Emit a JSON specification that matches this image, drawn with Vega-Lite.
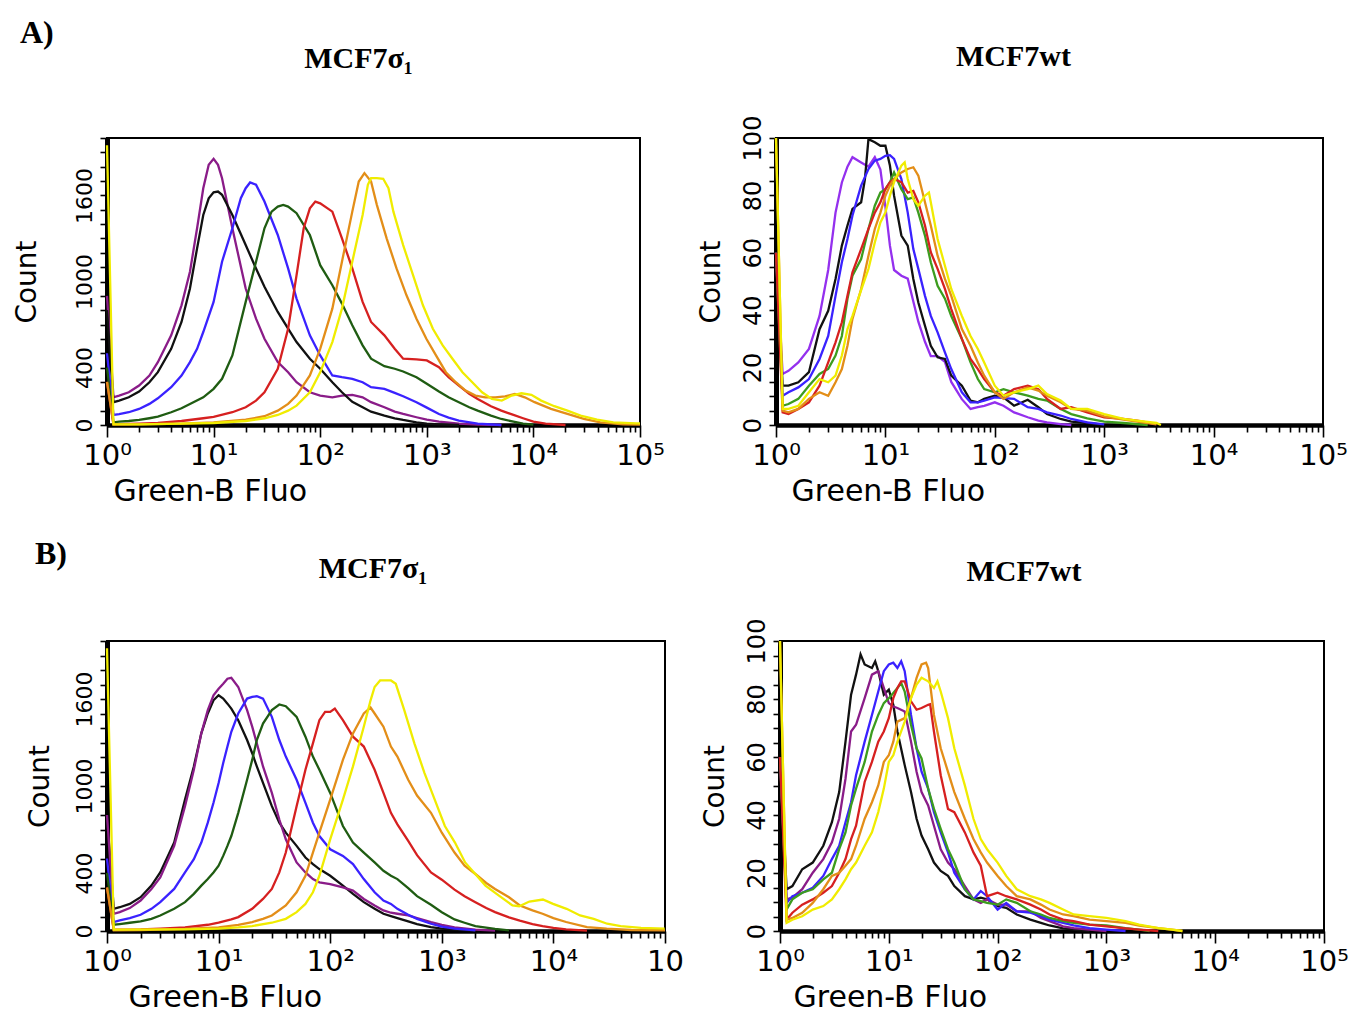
{
"$schema": "https://vega.github.io/schema/vega-lite/v6.json",
"background": "white",
"padding": {"left": 12, "right": 0, "top": 17, "bottom": 0},
"config": {
  "view": {"stroke": "black", "strokeWidth": 2},
  "axis": {"grid": false, "domainColor": "black", "tickColor": "black", "labelColor": "black", "titleColor": "black", "labelFont": "DejaVu Sans", "titleFont": "DejaVu Sans", "titleFontWeight": "normal", "tickWidth": 1.6},
  "title": {"font": "Liberation Serif", "fontWeight": "bold", "color": "black"},
  "line": {"strokeWidth": 2.3, "clip": true}
},
"datasets": {
"aL": [
{"s":"purple","x":1,"c":900},{"s":"purple","x":1.15,"c":193},{"s":"purple","x":1.3,"c":205},{"s":"purple","x":1.6,"c":228},{"s":"purple","x":2,"c":275},{"s":"purple","x":2.5,"c":345},{"s":"purple","x":3,"c":438},{"s":"purple","x":4,"c":625},{"s":"purple","x":5,"c":834},{"s":"purple","x":6,"c":1068},{"s":"purple","x":7,"c":1371},{"s":"purple","x":8,"c":1650},{"s":"purple","x":9,"c":1813},{"s":"purple","x":10,"c":1855},{"s":"purple","x":11,"c":1813},{"s":"purple","x":12,"c":1720},{"s":"purple","x":15,"c":1371},{"s":"purple","x":20,"c":951},{"s":"purple","x":25,"c":741},{"s":"purple","x":30,"c":601},{"s":"purple","x":40,"c":438},{"s":"purple","x":50,"c":368},{"s":"purple","x":60,"c":298},{"s":"purple","x":80,"c":228},{"s":"purple","x":100,"c":205},{"s":"purple","x":130,"c":193},{"s":"purple","x":160,"c":205},{"s":"purple","x":200,"c":210},{"s":"purple","x":250,"c":193},{"s":"purple","x":300,"c":159},{"s":"purple","x":400,"c":124},{"s":"purple","x":500,"c":93},{"s":"purple","x":600,"c":77},{"s":"purple","x":800,"c":54},{"s":"purple","x":1000,"c":37},{"s":"purple","x":1300,"c":23},{"s":"purple","x":2000,"c":9},{"s":"purple","x":3000,"c":2},{"s":"purple","x":5000,"c":0},
{"s":"black","x":1,"c":800},{"s":"black","x":1.15,"c":159},{"s":"black","x":1.3,"c":170},{"s":"black","x":1.6,"c":193},{"s":"black","x":2,"c":233},{"s":"black","x":2.5,"c":298},{"s":"black","x":3,"c":368},{"s":"black","x":4,"c":531},{"s":"black","x":5,"c":718},{"s":"black","x":6,"c":951},{"s":"black","x":7,"c":1231},{"s":"black","x":8,"c":1464},{"s":"black","x":9,"c":1580},{"s":"black","x":10,"c":1622},{"s":"black","x":11,"c":1627},{"s":"black","x":12,"c":1604},{"s":"black","x":15,"c":1464},{"s":"black","x":20,"c":1254},{"s":"black","x":25,"c":1091},{"s":"black","x":30,"c":963},{"s":"black","x":40,"c":788},{"s":"black","x":50,"c":671},{"s":"black","x":60,"c":578},{"s":"black","x":80,"c":462},{"s":"black","x":100,"c":392},{"s":"black","x":130,"c":298},{"s":"black","x":160,"c":228},{"s":"black","x":200,"c":161},{"s":"black","x":250,"c":124},{"s":"black","x":300,"c":93},{"s":"black","x":400,"c":65},{"s":"black","x":500,"c":47},{"s":"black","x":600,"c":35},{"s":"black","x":800,"c":19},{"s":"black","x":1000,"c":9},{"s":"black","x":1300,"c":5},{"s":"black","x":2000,"c":0},
{"s":"blue","x":1,"c":500},{"s":"blue","x":1.15,"c":70},{"s":"blue","x":1.3,"c":75},{"s":"blue","x":1.6,"c":89},{"s":"blue","x":2,"c":112},{"s":"blue","x":2.5,"c":147},{"s":"blue","x":3,"c":186},{"s":"blue","x":4,"c":263},{"s":"blue","x":5,"c":345},{"s":"blue","x":6,"c":438},{"s":"blue","x":7,"c":531},{"s":"blue","x":8,"c":648},{"s":"blue","x":10,"c":858},{"s":"blue","x":12,"c":1138},{"s":"blue","x":15,"c":1371},{"s":"blue","x":18,"c":1580},{"s":"blue","x":20,"c":1650},{"s":"blue","x":22,"c":1690},{"s":"blue","x":25,"c":1674},{"s":"blue","x":30,"c":1557},{"s":"blue","x":40,"c":1324},{"s":"blue","x":50,"c":1091},{"s":"blue","x":60,"c":881},{"s":"blue","x":80,"c":625},{"s":"blue","x":100,"c":485},{"s":"blue","x":130,"c":345},{"s":"blue","x":160,"c":333},{"s":"blue","x":200,"c":322},{"s":"blue","x":250,"c":298},{"s":"blue","x":300,"c":263},{"s":"blue","x":400,"c":252},{"s":"blue","x":500,"c":224},{"s":"blue","x":600,"c":200},{"s":"blue","x":800,"c":159},{"s":"blue","x":1000,"c":121},{"s":"blue","x":1300,"c":77},{"s":"blue","x":1600,"c":51},{"s":"blue","x":2000,"c":30},{"s":"blue","x":3000,"c":9},{"s":"blue","x":5000,"c":0},
{"s":"dgreen","x":1,"c":400},{"s":"dgreen","x":1.15,"c":19},{"s":"dgreen","x":1.3,"c":23},{"s":"dgreen","x":1.6,"c":28},{"s":"dgreen","x":2,"c":35},{"s":"dgreen","x":2.5,"c":47},{"s":"dgreen","x":3,"c":58},{"s":"dgreen","x":4,"c":89},{"s":"dgreen","x":5,"c":117},{"s":"dgreen","x":6,"c":147},{"s":"dgreen","x":8,"c":193},{"s":"dgreen","x":10,"c":252},{"s":"dgreen","x":12,"c":322},{"s":"dgreen","x":15,"c":485},{"s":"dgreen","x":20,"c":858},{"s":"dgreen","x":25,"c":1138},{"s":"dgreen","x":30,"c":1371},{"s":"dgreen","x":35,"c":1487},{"s":"dgreen","x":40,"c":1522},{"s":"dgreen","x":45,"c":1534},{"s":"dgreen","x":50,"c":1522},{"s":"dgreen","x":60,"c":1476},{"s":"dgreen","x":80,"c":1324},{"s":"dgreen","x":100,"c":1114},{"s":"dgreen","x":130,"c":974},{"s":"dgreen","x":160,"c":846},{"s":"dgreen","x":200,"c":695},{"s":"dgreen","x":250,"c":555},{"s":"dgreen","x":300,"c":462},{"s":"dgreen","x":400,"c":410},{"s":"dgreen","x":500,"c":392},{"s":"dgreen","x":600,"c":373},{"s":"dgreen","x":800,"c":333},{"s":"dgreen","x":1000,"c":287},{"s":"dgreen","x":1300,"c":233},{"s":"dgreen","x":1600,"c":193},{"s":"dgreen","x":2000,"c":159},{"s":"dgreen","x":2500,"c":124},{"s":"dgreen","x":3000,"c":100},{"s":"dgreen","x":4000,"c":65},{"s":"dgreen","x":5000,"c":42},{"s":"dgreen","x":6500,"c":23},{"s":"dgreen","x":8000,"c":9},{"s":"dgreen","x":10000,"c":2},
{"s":"red","x":1,"c":300},{"s":"red","x":1.15,"c":5},{"s":"red","x":1.6,"c":7},{"s":"red","x":2,"c":9},{"s":"red","x":3,"c":14},{"s":"red","x":5,"c":28},{"s":"red","x":8,"c":47},{"s":"red","x":10,"c":56},{"s":"red","x":15,"c":89},{"s":"red","x":20,"c":124},{"s":"red","x":25,"c":170},{"s":"red","x":30,"c":228},{"s":"red","x":40,"c":392},{"s":"red","x":50,"c":671},{"s":"red","x":60,"c":1044},{"s":"red","x":70,"c":1371},{"s":"red","x":80,"c":1510},{"s":"red","x":90,"c":1557},{"s":"red","x":100,"c":1545},{"s":"red","x":130,"c":1487},{"s":"red","x":160,"c":1301},{"s":"red","x":200,"c":1091},{"s":"red","x":250,"c":858},{"s":"red","x":300,"c":718},{"s":"red","x":400,"c":625},{"s":"red","x":500,"c":531},{"s":"red","x":600,"c":462},{"s":"red","x":800,"c":457},{"s":"red","x":1000,"c":450},{"s":"red","x":1300,"c":403},{"s":"red","x":1600,"c":333},{"s":"red","x":2000,"c":275},{"s":"red","x":2500,"c":217},{"s":"red","x":3000,"c":182},{"s":"red","x":4000,"c":131},{"s":"red","x":5000,"c":100},{"s":"red","x":6500,"c":70},{"s":"red","x":8000,"c":47},{"s":"red","x":10000,"c":23},{"s":"red","x":13000,"c":9},{"s":"red","x":20000,"c":0},
{"s":"orange","x":1,"c":300},{"s":"orange","x":1.15,"c":5},{"s":"orange","x":2,"c":5},{"s":"orange","x":5,"c":9},{"s":"orange","x":10,"c":19},{"s":"orange","x":20,"c":37},{"s":"orange","x":30,"c":61},{"s":"orange","x":40,"c":100},{"s":"orange","x":50,"c":147},{"s":"orange","x":60,"c":205},{"s":"orange","x":80,"c":345},{"s":"orange","x":100,"c":531},{"s":"orange","x":130,"c":811},{"s":"orange","x":160,"c":1138},{"s":"orange","x":200,"c":1487},{"s":"orange","x":230,"c":1697},{"s":"orange","x":260,"c":1755},{"s":"orange","x":300,"c":1697},{"s":"orange","x":340,"c":1534},{"s":"orange","x":420,"c":1301},{"s":"orange","x":520,"c":1091},{"s":"orange","x":645,"c":904},{"s":"orange","x":800,"c":741},{"s":"orange","x":990,"c":601},{"s":"orange","x":1220,"c":485},{"s":"orange","x":1510,"c":368},{"s":"orange","x":1870,"c":298},{"s":"orange","x":2310,"c":240},{"s":"orange","x":2860,"c":205},{"s":"orange","x":3540,"c":193},{"s":"orange","x":4380,"c":193},{"s":"orange","x":5420,"c":200},{"s":"orange","x":6700,"c":217},{"s":"orange","x":8300,"c":193},{"s":"orange","x":10260,"c":159},{"s":"orange","x":14630,"c":112},{"s":"orange","x":20840,"c":77},{"s":"orange","x":29720,"c":42},{"s":"orange","x":42460,"c":19},{"s":"orange","x":69660,"c":5},{"s":"orange","x":100000,"c":2},
{"s":"yellow","x":1,"c":1950},{"s":"yellow","x":1.15,"c":5},{"s":"yellow","x":2,"c":5},{"s":"yellow","x":5,"c":9},{"s":"yellow","x":10,"c":14},{"s":"yellow","x":20,"c":28},{"s":"yellow","x":30,"c":47},{"s":"yellow","x":40,"c":70},{"s":"yellow","x":50,"c":100},{"s":"yellow","x":60,"c":135},{"s":"yellow","x":80,"c":228},{"s":"yellow","x":100,"c":368},{"s":"yellow","x":130,"c":578},{"s":"yellow","x":160,"c":811},{"s":"yellow","x":200,"c":1138},{"s":"yellow","x":250,"c":1464},{"s":"yellow","x":280,"c":1674},{"s":"yellow","x":300,"c":1720},{"s":"yellow","x":340,"c":1720},{"s":"yellow","x":390,"c":1716},{"s":"yellow","x":437,"c":1650},{"s":"yellow","x":486,"c":1487},{"s":"yellow","x":600,"c":1254},{"s":"yellow","x":743,"c":1044},{"s":"yellow","x":920,"c":834},{"s":"yellow","x":1140,"c":671},{"s":"yellow","x":1410,"c":555},{"s":"yellow","x":1740,"c":462},{"s":"yellow","x":2160,"c":368},{"s":"yellow","x":2670,"c":298},{"s":"yellow","x":3300,"c":228},{"s":"yellow","x":4080,"c":182},{"s":"yellow","x":5050,"c":170},{"s":"yellow","x":6250,"c":205},{"s":"yellow","x":7730,"c":221},{"s":"yellow","x":9570,"c":210},{"s":"yellow","x":11830,"c":170},{"s":"yellow","x":15710,"c":131},{"s":"yellow","x":20840,"c":100},{"s":"yellow","x":27720,"c":65},{"s":"yellow","x":39530,"c":37},{"s":"yellow","x":56270,"c":19},{"s":"yellow","x":92430,"c":12},{"s":"yellow","x":100000,"c":12}
],
"aR": [
{"s":"violet","x":1,"c":60},{"s":"violet","x":1.15,"c":17.8},{"s":"violet","x":1.3,"c":18.9},{"s":"violet","x":1.6,"c":21.8},{"s":"violet","x":2,"c":26.5},{"s":"violet","x":2.5,"c":38},{"s":"violet","x":3,"c":54},{"s":"violet","x":3.5,"c":74},{"s":"violet","x":4,"c":84.5},{"s":"violet","x":4.5,"c":90},{"s":"violet","x":5,"c":93.3},{"s":"violet","x":6,"c":91.5},{"s":"violet","x":7,"c":90},{"s":"violet","x":8,"c":93.3},{"s":"violet","x":9,"c":89},{"s":"violet","x":10,"c":76},{"s":"violet","x":11,"c":62.5},{"s":"violet","x":12,"c":54},{"s":"violet","x":14,"c":52},{"s":"violet","x":16,"c":51},{"s":"violet","x":18,"c":43},{"s":"violet","x":20,"c":36},{"s":"violet","x":23,"c":29},{"s":"violet","x":26,"c":24},{"s":"violet","x":30,"c":24},{"s":"violet","x":35,"c":22},{"s":"violet","x":40,"c":15},{"s":"violet","x":50,"c":9},{"s":"violet","x":60,"c":5.6},{"s":"violet","x":70,"c":6.2},{"s":"violet","x":80,"c":6.7},{"s":"violet","x":100,"c":7.9},{"s":"violet","x":120,"c":6.7},{"s":"violet","x":150,"c":4.4},{"s":"violet","x":200,"c":2.7},{"s":"violet","x":250,"c":1.5},{"s":"violet","x":300,"c":0.9},{"s":"violet","x":400,"c":0.3},{"s":"violet","x":500,"c":0},
{"s":"black","x":1,"c":60},{"s":"black","x":1.15,"c":13.7},{"s":"black","x":1.3,"c":13.7},{"s":"black","x":1.6,"c":14.9},{"s":"black","x":2,"c":18.4},{"s":"black","x":2.5,"c":33.4},{"s":"black","x":3,"c":39.8},{"s":"black","x":3.5,"c":50.9},{"s":"black","x":4,"c":62.5},{"s":"black","x":4.5,"c":69.5},{"s":"black","x":5,"c":75.3},{"s":"black","x":6,"c":77.6},{"s":"black","x":6.5,"c":85.7},{"s":"black","x":7,"c":99.6},{"s":"black","x":8,"c":98.5},{"s":"black","x":9,"c":97.3},{"s":"black","x":10,"c":97.3},{"s":"black","x":11,"c":90.4},{"s":"black","x":12,"c":79.9},{"s":"black","x":14,"c":66},{"s":"black","x":16,"c":62.5},{"s":"black","x":18,"c":50.9},{"s":"black","x":20,"c":42.7},{"s":"black","x":23,"c":34.6},{"s":"black","x":26,"c":27.6},{"s":"black","x":30,"c":23.6},{"s":"black","x":35,"c":23},{"s":"black","x":40,"c":17.2},{"s":"black","x":50,"c":13.7},{"s":"black","x":60,"c":8.5},{"s":"black","x":70,"c":7.9},{"s":"black","x":80,"c":9.1},{"s":"black","x":100,"c":10.2},{"s":"black","x":120,"c":9.6},{"s":"black","x":150,"c":6.7},{"s":"black","x":200,"c":8.8},{"s":"black","x":250,"c":6.2},{"s":"black","x":300,"c":3.8},{"s":"black","x":400,"c":2.1},{"s":"black","x":500,"c":1.2},{"s":"black","x":700,"c":0.7},{"s":"black","x":1000,"c":0},
{"s":"blue","x":1,"c":60},{"s":"blue","x":1.15,"c":10.2},{"s":"blue","x":1.3,"c":11.4},{"s":"blue","x":1.6,"c":13.1},{"s":"blue","x":2,"c":16},{"s":"blue","x":2.5,"c":23},{"s":"blue","x":3,"c":31},{"s":"blue","x":3.5,"c":45},{"s":"blue","x":4,"c":56.7},{"s":"blue","x":4.5,"c":64.8},{"s":"blue","x":5,"c":73},{"s":"blue","x":6,"c":83.4},{"s":"blue","x":7,"c":89.2},{"s":"blue","x":8,"c":92.1},{"s":"blue","x":9,"c":92.7},{"s":"blue","x":10,"c":93.8},{"s":"blue","x":11,"c":94},{"s":"blue","x":12,"c":92.7},{"s":"blue","x":14,"c":85.7},{"s":"blue","x":16,"c":74},{"s":"blue","x":18,"c":61.3},{"s":"blue","x":20,"c":54.4},{"s":"blue","x":23,"c":45},{"s":"blue","x":26,"c":38},{"s":"blue","x":30,"c":32.3},{"s":"blue","x":35,"c":25.3},{"s":"blue","x":40,"c":19.5},{"s":"blue","x":50,"c":11.4},{"s":"blue","x":60,"c":7.9},{"s":"blue","x":70,"c":7.9},{"s":"blue","x":80,"c":8.5},{"s":"blue","x":100,"c":9.6},{"s":"blue","x":150,"c":9.1},{"s":"blue","x":200,"c":6.2},{"s":"blue","x":250,"c":5.6},{"s":"blue","x":300,"c":4.4},{"s":"blue","x":400,"c":3.3},{"s":"blue","x":500,"c":2.1},{"s":"blue","x":700,"c":0.9},{"s":"blue","x":1000,"c":0.2},
{"s":"green","x":1,"c":60},{"s":"green","x":1.15,"c":6.7},{"s":"green","x":1.3,"c":7.3},{"s":"green","x":1.6,"c":9.1},{"s":"green","x":2,"c":13.7},{"s":"green","x":2.5,"c":17.8},{"s":"green","x":3,"c":19.5},{"s":"green","x":3.5,"c":24.2},{"s":"green","x":4,"c":31},{"s":"green","x":4.5,"c":44},{"s":"green","x":5,"c":52},{"s":"green","x":6,"c":57.8},{"s":"green","x":7,"c":68.3},{"s":"green","x":8,"c":76.4},{"s":"green","x":9,"c":81},{"s":"green","x":10,"c":82.2},{"s":"green","x":11,"c":84.6},{"s":"green","x":12,"c":88},{"s":"green","x":14,"c":82.2},{"s":"green","x":16,"c":78.7},{"s":"green","x":18,"c":79.3},{"s":"green","x":20,"c":74},{"s":"green","x":23,"c":66},{"s":"green","x":26,"c":56.7},{"s":"green","x":30,"c":48.5},{"s":"green","x":35,"c":44},{"s":"green","x":40,"c":38},{"s":"green","x":50,"c":30},{"s":"green","x":60,"c":21.8},{"s":"green","x":70,"c":16},{"s":"green","x":80,"c":12.5},{"s":"green","x":100,"c":11.4},{"s":"green","x":120,"c":12.5},{"s":"green","x":150,"c":11.4},{"s":"green","x":200,"c":10.2},{"s":"green","x":250,"c":9.1},{"s":"green","x":300,"c":8.5},{"s":"green","x":400,"c":5.6},{"s":"green","x":500,"c":3.8},{"s":"green","x":700,"c":2.3},{"s":"green","x":1000,"c":1.2},{"s":"green","x":1500,"c":0.7},{"s":"green","x":2500,"c":0},
{"s":"red","x":1,"c":60},{"s":"red","x":1.15,"c":4.4},{"s":"red","x":1.3,"c":3.8},{"s":"red","x":1.6,"c":5.6},{"s":"red","x":2,"c":7.9},{"s":"red","x":2.5,"c":13.7},{"s":"red","x":3,"c":21.8},{"s":"red","x":3.5,"c":28.8},{"s":"red","x":4,"c":35.8},{"s":"red","x":4.5,"c":45},{"s":"red","x":5,"c":53.2},{"s":"red","x":6,"c":61.3},{"s":"red","x":7,"c":68.3},{"s":"red","x":8,"c":74},{"s":"red","x":9,"c":77.6},{"s":"red","x":10,"c":82.2},{"s":"red","x":11,"c":84.6},{"s":"red","x":12,"c":85.7},{"s":"red","x":14,"c":84.6},{"s":"red","x":16,"c":81},{"s":"red","x":18,"c":81.6},{"s":"red","x":20,"c":77.6},{"s":"red","x":23,"c":69.5},{"s":"red","x":26,"c":60.2},{"s":"red","x":30,"c":54.4},{"s":"red","x":35,"c":47.4},{"s":"red","x":40,"c":40.4},{"s":"red","x":50,"c":30},{"s":"red","x":60,"c":23},{"s":"red","x":70,"c":19.5},{"s":"red","x":80,"c":16},{"s":"red","x":100,"c":11.4},{"s":"red","x":120,"c":10.2},{"s":"red","x":150,"c":12.5},{"s":"red","x":200,"c":13.7},{"s":"red","x":250,"c":12.5},{"s":"red","x":300,"c":9.1},{"s":"red","x":400,"c":5.6},{"s":"red","x":500,"c":6.2},{"s":"red","x":700,"c":4.4},{"s":"red","x":1000,"c":2.7},{"s":"red","x":1500,"c":2.1},{"s":"red","x":2000,"c":1.5},{"s":"red","x":3000,"c":0.3},
{"s":"orange","x":1,"c":100},{"s":"orange","x":1.15,"c":5},{"s":"orange","x":1.3,"c":4.4},{"s":"orange","x":1.6,"c":5.6},{"s":"orange","x":2,"c":9.1},{"s":"orange","x":2.5,"c":11.4},{"s":"orange","x":3,"c":10.2},{"s":"orange","x":3.5,"c":14.9},{"s":"orange","x":4,"c":19.5},{"s":"orange","x":4.5,"c":27.6},{"s":"orange","x":5,"c":37},{"s":"orange","x":6,"c":47.4},{"s":"orange","x":7,"c":59},{"s":"orange","x":8,"c":68.3},{"s":"orange","x":9,"c":74},{"s":"orange","x":10,"c":79.9},{"s":"orange","x":11,"c":83.4},{"s":"orange","x":12,"c":85.7},{"s":"orange","x":14,"c":88},{"s":"orange","x":16,"c":89.2},{"s":"orange","x":18,"c":89.8},{"s":"orange","x":20,"c":86.9},{"s":"orange","x":23,"c":77.6},{"s":"orange","x":26,"c":69.5},{"s":"orange","x":30,"c":59},{"s":"orange","x":35,"c":50.9},{"s":"orange","x":40,"c":45},{"s":"orange","x":50,"c":33.4},{"s":"orange","x":60,"c":27.6},{"s":"orange","x":70,"c":21.8},{"s":"orange","x":80,"c":17.2},{"s":"orange","x":100,"c":11.4},{"s":"orange","x":120,"c":9.1},{"s":"orange","x":150,"c":11.4},{"s":"orange","x":200,"c":13.1},{"s":"orange","x":250,"c":12},{"s":"orange","x":300,"c":10.2},{"s":"orange","x":400,"c":7.9},{"s":"orange","x":500,"c":5.6},{"s":"orange","x":700,"c":5},{"s":"orange","x":1000,"c":3},{"s":"orange","x":1500,"c":1.9},{"s":"orange","x":2000,"c":1.2},{"s":"orange","x":3000,"c":0.2},
{"s":"yellow","x":1,"c":100},{"s":"yellow","x":1.15,"c":5.6},{"s":"yellow","x":1.3,"c":5.6},{"s":"yellow","x":1.6,"c":6.7},{"s":"yellow","x":2,"c":11.4},{"s":"yellow","x":2.5,"c":16},{"s":"yellow","x":3,"c":14.9},{"s":"yellow","x":3.5,"c":17.2},{"s":"yellow","x":4,"c":24.2},{"s":"yellow","x":4.5,"c":33.4},{"s":"yellow","x":5,"c":38},{"s":"yellow","x":6,"c":47},{"s":"yellow","x":7,"c":54.4},{"s":"yellow","x":8,"c":63.6},{"s":"yellow","x":9,"c":70.6},{"s":"yellow","x":10,"c":74},{"s":"yellow","x":11,"c":79.9},{"s":"yellow","x":12,"c":84.6},{"s":"yellow","x":14,"c":90.4},{"s":"yellow","x":15,"c":91.5},{"s":"yellow","x":16,"c":85.7},{"s":"yellow","x":18,"c":78.7},{"s":"yellow","x":20,"c":76.4},{"s":"yellow","x":23,"c":79.9},{"s":"yellow","x":25,"c":81},{"s":"yellow","x":26,"c":77.6},{"s":"yellow","x":30,"c":64.8},{"s":"yellow","x":35,"c":55.5},{"s":"yellow","x":40,"c":47.4},{"s":"yellow","x":50,"c":38},{"s":"yellow","x":60,"c":31},{"s":"yellow","x":70,"c":26.5},{"s":"yellow","x":80,"c":21.8},{"s":"yellow","x":100,"c":13.7},{"s":"yellow","x":120,"c":10.2},{"s":"yellow","x":150,"c":11.4},{"s":"yellow","x":200,"c":12.5},{"s":"yellow","x":250,"c":13.7},{"s":"yellow","x":300,"c":10.8},{"s":"yellow","x":400,"c":8.5},{"s":"yellow","x":500,"c":5.6},{"s":"yellow","x":700,"c":5.6},{"s":"yellow","x":1000,"c":3.8},{"s":"yellow","x":1500,"c":2.1},{"s":"yellow","x":2000,"c":1.5},{"s":"yellow","x":3000,"c":0.7},{"s":"yellow","x":3300,"c":0}
],
"bL": [
{"s":"black","x":1,"c":800},{"s":"black","x":1.15,"c":153},{"s":"black","x":1.3,"c":164},{"s":"black","x":1.6,"c":187},{"s":"black","x":2,"c":233},{"s":"black","x":2.5,"c":313},{"s":"black","x":3,"c":404},{"s":"black","x":4,"c":610},{"s":"black","x":5,"c":906},{"s":"black","x":6,"c":1135},{"s":"black","x":7,"c":1363},{"s":"black","x":8,"c":1500},{"s":"black","x":9,"c":1591},{"s":"black","x":10,"c":1626},{"s":"black","x":11,"c":1603},{"s":"black","x":12,"c":1568},{"s":"black","x":13,"c":1534},{"s":"black","x":15,"c":1454},{"s":"black","x":18,"c":1317},{"s":"black","x":20,"c":1226},{"s":"black","x":22,"c":1135},{"s":"black","x":25,"c":1021},{"s":"black","x":30,"c":861},{"s":"black","x":35,"c":747},{"s":"black","x":40,"c":678},{"s":"black","x":50,"c":587},{"s":"black","x":60,"c":507},{"s":"black","x":70,"c":461},{"s":"black","x":80,"c":427},{"s":"black","x":100,"c":381},{"s":"black","x":130,"c":313},{"s":"black","x":160,"c":256},{"s":"black","x":200,"c":199},{"s":"black","x":250,"c":153},{"s":"black","x":300,"c":119},{"s":"black","x":350,"c":103},{"s":"black","x":400,"c":89},{"s":"black","x":500,"c":66},{"s":"black","x":600,"c":48},{"s":"black","x":800,"c":27},{"s":"black","x":1000,"c":16},{"s":"black","x":1300,"c":9},{"s":"black","x":2000,"c":2},
{"s":"purple","x":1,"c":800},{"s":"purple","x":1.15,"c":119},{"s":"purple","x":1.3,"c":130},{"s":"purple","x":1.6,"c":158},{"s":"purple","x":2,"c":210},{"s":"purple","x":2.5,"c":290},{"s":"purple","x":3,"c":370},{"s":"purple","x":4,"c":587},{"s":"purple","x":5,"c":861},{"s":"purple","x":6,"c":1112},{"s":"purple","x":7,"c":1363},{"s":"purple","x":8,"c":1523},{"s":"purple","x":9,"c":1626},{"s":"purple","x":10,"c":1671},{"s":"purple","x":11,"c":1705},{"s":"purple","x":12,"c":1740},{"s":"purple","x":13,"c":1746},{"s":"purple","x":15,"c":1683},{"s":"purple","x":18,"c":1523},{"s":"purple","x":20,"c":1409},{"s":"purple","x":22,"c":1294},{"s":"purple","x":25,"c":1135},{"s":"purple","x":30,"c":952},{"s":"purple","x":35,"c":769},{"s":"purple","x":40,"c":632},{"s":"purple","x":50,"c":473},{"s":"purple","x":60,"c":404},{"s":"purple","x":70,"c":358},{"s":"purple","x":80,"c":336},{"s":"purple","x":100,"c":324},{"s":"purple","x":130,"c":301},{"s":"purple","x":160,"c":279},{"s":"purple","x":200,"c":221},{"s":"purple","x":250,"c":176},{"s":"purple","x":300,"c":142},{"s":"purple","x":350,"c":126},{"s":"purple","x":400,"c":119},{"s":"purple","x":500,"c":107},{"s":"purple","x":600,"c":89},{"s":"purple","x":800,"c":62},{"s":"purple","x":1000,"c":43},{"s":"purple","x":1300,"c":25},{"s":"purple","x":2000,"c":9},{"s":"purple","x":3000,"c":2},
{"s":"blue","x":1,"c":500},{"s":"blue","x":1.15,"c":62},{"s":"blue","x":1.3,"c":73},{"s":"blue","x":1.6,"c":89},{"s":"blue","x":2,"c":112},{"s":"blue","x":2.5,"c":153},{"s":"blue","x":3,"c":199},{"s":"blue","x":4,"c":290},{"s":"blue","x":5,"c":404},{"s":"blue","x":6,"c":495},{"s":"blue","x":7,"c":610},{"s":"blue","x":8,"c":747},{"s":"blue","x":9,"c":884},{"s":"blue","x":10,"c":1021},{"s":"blue","x":11,"c":1158},{"s":"blue","x":12,"c":1272},{"s":"blue","x":13,"c":1374},{"s":"blue","x":15,"c":1500},{"s":"blue","x":18,"c":1603},{"s":"blue","x":20,"c":1614},{"s":"blue","x":22,"c":1619},{"s":"blue","x":25,"c":1603},{"s":"blue","x":30,"c":1477},{"s":"blue","x":35,"c":1317},{"s":"blue","x":40,"c":1203},{"s":"blue","x":50,"c":1043},{"s":"blue","x":60,"c":884},{"s":"blue","x":70,"c":747},{"s":"blue","x":80,"c":655},{"s":"blue","x":100,"c":564},{"s":"blue","x":130,"c":518},{"s":"blue","x":160,"c":461},{"s":"blue","x":200,"c":358},{"s":"blue","x":250,"c":267},{"s":"blue","x":300,"c":210},{"s":"blue","x":350,"c":187},{"s":"blue","x":400,"c":153},{"s":"blue","x":500,"c":112},{"s":"blue","x":600,"c":84},{"s":"blue","x":800,"c":50},{"s":"blue","x":1000,"c":30},{"s":"blue","x":1300,"c":16},{"s":"blue","x":2000,"c":5},
{"s":"dgreen","x":1,"c":400},{"s":"dgreen","x":1.15,"c":43},{"s":"dgreen","x":1.3,"c":48},{"s":"dgreen","x":1.6,"c":57},{"s":"dgreen","x":2,"c":66},{"s":"dgreen","x":2.5,"c":84},{"s":"dgreen","x":3,"c":107},{"s":"dgreen","x":4,"c":153},{"s":"dgreen","x":5,"c":199},{"s":"dgreen","x":6,"c":256},{"s":"dgreen","x":7,"c":313},{"s":"dgreen","x":8,"c":358},{"s":"dgreen","x":9,"c":404},{"s":"dgreen","x":10,"c":450},{"s":"dgreen","x":11,"c":518},{"s":"dgreen","x":12,"c":587},{"s":"dgreen","x":13,"c":655},{"s":"dgreen","x":15,"c":815},{"s":"dgreen","x":18,"c":1043},{"s":"dgreen","x":20,"c":1180},{"s":"dgreen","x":22,"c":1317},{"s":"dgreen","x":25,"c":1431},{"s":"dgreen","x":30,"c":1523},{"s":"dgreen","x":35,"c":1562},{"s":"dgreen","x":40,"c":1550},{"s":"dgreen","x":50,"c":1477},{"s":"dgreen","x":60,"c":1340},{"s":"dgreen","x":70,"c":1203},{"s":"dgreen","x":80,"c":1112},{"s":"dgreen","x":100,"c":952},{"s":"dgreen","x":130,"c":724},{"s":"dgreen","x":160,"c":610},{"s":"dgreen","x":200,"c":541},{"s":"dgreen","x":250,"c":473},{"s":"dgreen","x":300,"c":415},{"s":"dgreen","x":350,"c":381},{"s":"dgreen","x":400,"c":358},{"s":"dgreen","x":500,"c":295},{"s":"dgreen","x":600,"c":240},{"s":"dgreen","x":800,"c":181},{"s":"dgreen","x":1000,"c":130},{"s":"dgreen","x":1300,"c":80},{"s":"dgreen","x":1600,"c":57},{"s":"dgreen","x":2000,"c":34},{"s":"dgreen","x":3000,"c":14},{"s":"dgreen","x":4000,"c":5},
{"s":"red","x":1,"c":300},{"s":"red","x":1.15,"c":9},{"s":"red","x":2,"c":11},{"s":"red","x":3,"c":16},{"s":"red","x":5,"c":25},{"s":"red","x":8,"c":43},{"s":"red","x":10,"c":57},{"s":"red","x":13,"c":80},{"s":"red","x":15,"c":96},{"s":"red","x":20,"c":153},{"s":"red","x":25,"c":221},{"s":"red","x":30,"c":290},{"s":"red","x":35,"c":404},{"s":"red","x":40,"c":541},{"s":"red","x":50,"c":861},{"s":"red","x":60,"c":1112},{"s":"red","x":70,"c":1294},{"s":"red","x":80,"c":1454},{"s":"red","x":90,"c":1511},{"s":"red","x":100,"c":1511},{"s":"red","x":110,"c":1534},{"s":"red","x":130,"c":1454},{"s":"red","x":160,"c":1340},{"s":"red","x":200,"c":1272},{"s":"red","x":250,"c":1112},{"s":"red","x":300,"c":952},{"s":"red","x":350,"c":815},{"s":"red","x":400,"c":735},{"s":"red","x":500,"c":621},{"s":"red","x":600,"c":523},{"s":"red","x":800,"c":404},{"s":"red","x":1000,"c":354},{"s":"red","x":1300,"c":285},{"s":"red","x":1600,"c":240},{"s":"red","x":2000,"c":199},{"s":"red","x":2500,"c":158},{"s":"red","x":3000,"c":130},{"s":"red","x":4000,"c":94},{"s":"red","x":5000,"c":71},{"s":"red","x":6500,"c":48},{"s":"red","x":8000,"c":34},{"s":"red","x":10000,"c":21},{"s":"red","x":13000,"c":11},{"s":"red","x":20000,"c":2},
{"s":"orange","x":1,"c":300},{"s":"orange","x":1.15,"c":5},{"s":"orange","x":2,"c":7},{"s":"orange","x":5,"c":14},{"s":"orange","x":10,"c":25},{"s":"orange","x":15,"c":43},{"s":"orange","x":20,"c":62},{"s":"orange","x":25,"c":84},{"s":"orange","x":30,"c":107},{"s":"orange","x":40,"c":176},{"s":"orange","x":50,"c":267},{"s":"orange","x":60,"c":381},{"s":"orange","x":70,"c":541},{"s":"orange","x":80,"c":678},{"s":"orange","x":100,"c":906},{"s":"orange","x":130,"c":1180},{"s":"orange","x":160,"c":1363},{"s":"orange","x":200,"c":1500},{"s":"orange","x":230,"c":1541},{"s":"orange","x":250,"c":1500},{"s":"orange","x":300,"c":1409},{"s":"orange","x":350,"c":1272},{"s":"orange","x":400,"c":1203},{"s":"orange","x":500,"c":1043},{"s":"orange","x":600,"c":934},{"s":"orange","x":800,"c":815},{"s":"orange","x":1000,"c":678},{"s":"orange","x":1300,"c":541},{"s":"orange","x":1600,"c":450},{"s":"orange","x":2000,"c":393},{"s":"orange","x":2500,"c":331},{"s":"orange","x":3000,"c":290},{"s":"orange","x":4000,"c":233},{"s":"orange","x":5000,"c":176},{"s":"orange","x":6500,"c":142},{"s":"orange","x":8000,"c":119},{"s":"orange","x":10000,"c":89},{"s":"orange","x":13000,"c":62},{"s":"orange","x":20000,"c":27},{"s":"orange","x":30000,"c":16},{"s":"orange","x":50000,"c":7},{"s":"orange","x":100000,"c":5},
{"s":"yellow","x":1,"c":1950},{"s":"yellow","x":1.15,"c":9},{"s":"yellow","x":5,"c":11},{"s":"yellow","x":10,"c":16},{"s":"yellow","x":15,"c":25},{"s":"yellow","x":20,"c":34},{"s":"yellow","x":30,"c":57},{"s":"yellow","x":40,"c":84},{"s":"yellow","x":50,"c":130},{"s":"yellow","x":60,"c":187},{"s":"yellow","x":70,"c":267},{"s":"yellow","x":80,"c":381},{"s":"yellow","x":100,"c":632},{"s":"yellow","x":130,"c":906},{"s":"yellow","x":160,"c":1135},{"s":"yellow","x":200,"c":1409},{"s":"yellow","x":230,"c":1591},{"s":"yellow","x":250,"c":1683},{"s":"yellow","x":280,"c":1728},{"s":"yellow","x":300,"c":1728},{"s":"yellow","x":350,"c":1728},{"s":"yellow","x":387,"c":1705},{"s":"yellow","x":461,"c":1523},{"s":"yellow","x":568,"c":1294},{"s":"yellow","x":700,"c":1089},{"s":"yellow","x":864,"c":906},{"s":"yellow","x":1065,"c":724},{"s":"yellow","x":1312,"c":610},{"s":"yellow","x":1618,"c":473},{"s":"yellow","x":1995,"c":393},{"s":"yellow","x":2460,"c":313},{"s":"yellow","x":3251,"c":244},{"s":"yellow","x":4297,"c":176},{"s":"yellow","x":4940,"c":171},{"s":"yellow","x":6093,"c":203},{"s":"yellow","x":8054,"c":217},{"s":"yellow","x":9930,"c":187},{"s":"yellow","x":13120,"c":153},{"s":"yellow","x":17340,"c":107},{"s":"yellow","x":22950,"c":84},{"s":"yellow","x":30330,"c":50},{"s":"yellow","x":40090,"c":34},{"s":"yellow","x":60960,"c":21},{"s":"yellow","x":99300,"c":16}
],
"bR": [
{"s":"black","x":1,"c":60},{"s":"black","x":1.15,"c":14.4},{"s":"black","x":1.3,"c":15.5},{"s":"black","x":1.6,"c":21.3},{"s":"black","x":2,"c":23.6},{"s":"black","x":2.5,"c":29.4},{"s":"black","x":3,"c":37.5},{"s":"black","x":3.5,"c":47.9},{"s":"black","x":4,"c":65.3},{"s":"black","x":4.5,"c":81.5},{"s":"black","x":5,"c":88.4},{"s":"black","x":5.5,"c":95.4},{"s":"black","x":6,"c":91.9},{"s":"black","x":7,"c":90.7},{"s":"black","x":7.5,"c":93},{"s":"black","x":8,"c":89.6},{"s":"black","x":9,"c":81.5},{"s":"black","x":10,"c":83.2},{"s":"black","x":11,"c":78},{"s":"black","x":12,"c":68.8},{"s":"black","x":14,"c":57.2},{"s":"black","x":16,"c":47.9},{"s":"black","x":18,"c":38.7},{"s":"black","x":20,"c":32.9},{"s":"black","x":23,"c":28.2},{"s":"black","x":26,"c":23.6},{"s":"black","x":30,"c":20.7},{"s":"black","x":35,"c":19},{"s":"black","x":40,"c":15.5},{"s":"black","x":50,"c":12},{"s":"black","x":60,"c":10.9},{"s":"black","x":70,"c":11.5},{"s":"black","x":80,"c":10.9},{"s":"black","x":100,"c":8.6},{"s":"black","x":120,"c":8},{"s":"black","x":150,"c":5.7},{"s":"black","x":200,"c":3.9},{"s":"black","x":250,"c":2.8},{"s":"black","x":300,"c":1.9},{"s":"black","x":400,"c":0.9},{"s":"black","x":500,"c":0.5},{"s":"black","x":700,"c":0},
{"s":"purple","x":1,"c":60},{"s":"purple","x":1.15,"c":10.9},{"s":"purple","x":1.3,"c":11.5},{"s":"purple","x":1.6,"c":14.4},{"s":"purple","x":2,"c":20.1},{"s":"purple","x":2.5,"c":24.8},{"s":"purple","x":3,"c":30.6},{"s":"purple","x":3.5,"c":38.7},{"s":"purple","x":4,"c":52.5},{"s":"purple","x":4.5,"c":68.8},{"s":"purple","x":5,"c":71.1},{"s":"purple","x":6,"c":80.3},{"s":"purple","x":7,"c":88.4},{"s":"purple","x":8,"c":89.6},{"s":"purple","x":9,"c":83.8},{"s":"purple","x":10,"c":78.6},{"s":"purple","x":11,"c":77.4},{"s":"purple","x":12,"c":76.9},{"s":"purple","x":14,"c":75.7},{"s":"purple","x":16,"c":65.3},{"s":"purple","x":18,"c":54.9},{"s":"purple","x":20,"c":47.9},{"s":"purple","x":23,"c":43.3},{"s":"purple","x":26,"c":36.3},{"s":"purple","x":30,"c":28.2},{"s":"purple","x":35,"c":23.6},{"s":"purple","x":40,"c":21.3},{"s":"purple","x":50,"c":15.5},{"s":"purple","x":60,"c":10.9},{"s":"purple","x":70,"c":9.7},{"s":"purple","x":80,"c":10.9},{"s":"purple","x":100,"c":9.1},{"s":"purple","x":120,"c":9.1},{"s":"purple","x":150,"c":6.8},{"s":"purple","x":200,"c":6.8},{"s":"purple","x":250,"c":4.5},{"s":"purple","x":300,"c":3.4},{"s":"purple","x":400,"c":1.6},{"s":"purple","x":500,"c":1},{"s":"purple","x":700,"c":0.5},{"s":"purple","x":1000,"c":0},
{"s":"blue","x":1,"c":60},{"s":"blue","x":1.15,"c":9.7},{"s":"blue","x":1.3,"c":12},{"s":"blue","x":1.6,"c":13.2},{"s":"blue","x":2,"c":14.9},{"s":"blue","x":2.5,"c":19},{"s":"blue","x":3,"c":24.8},{"s":"blue","x":3.5,"c":29.4},{"s":"blue","x":4,"c":37.5},{"s":"blue","x":4.5,"c":44.4},{"s":"blue","x":5,"c":53.7},{"s":"blue","x":6,"c":65.3},{"s":"blue","x":7,"c":74.5},{"s":"blue","x":8,"c":82.6},{"s":"blue","x":9,"c":89.6},{"s":"blue","x":10,"c":91.9},{"s":"blue","x":11,"c":92.5},{"s":"blue","x":12,"c":90.7},{"s":"blue","x":13,"c":93},{"s":"blue","x":14,"c":89.6},{"s":"blue","x":16,"c":74.5},{"s":"blue","x":18,"c":63},{"s":"blue","x":20,"c":54.9},{"s":"blue","x":23,"c":49.1},{"s":"blue","x":26,"c":41},{"s":"blue","x":30,"c":34},{"s":"blue","x":35,"c":27.1},{"s":"blue","x":40,"c":20.1},{"s":"blue","x":50,"c":14.4},{"s":"blue","x":60,"c":10.9},{"s":"blue","x":70,"c":13.8},{"s":"blue","x":80,"c":12},{"s":"blue","x":100,"c":7.4},{"s":"blue","x":120,"c":9.7},{"s":"blue","x":150,"c":6.8},{"s":"blue","x":200,"c":6.3},{"s":"blue","x":250,"c":5.1},{"s":"blue","x":300,"c":3.9},{"s":"blue","x":400,"c":2.8},{"s":"blue","x":500,"c":1.9},{"s":"blue","x":700,"c":1},{"s":"blue","x":1000,"c":0.5},{"s":"blue","x":1500,"c":0},
{"s":"green","x":1,"c":60},{"s":"green","x":1.15,"c":7.4},{"s":"green","x":1.3,"c":10.9},{"s":"green","x":1.6,"c":13.2},{"s":"green","x":2,"c":14.4},{"s":"green","x":2.5,"c":17.8},{"s":"green","x":3,"c":20.1},{"s":"green","x":3.5,"c":28.2},{"s":"green","x":4,"c":34},{"s":"green","x":4.5,"c":43.3},{"s":"green","x":5,"c":49.1},{"s":"green","x":6,"c":58.3},{"s":"green","x":7,"c":68.8},{"s":"green","x":8,"c":74.5},{"s":"green","x":9,"c":78.6},{"s":"green","x":10,"c":80.3},{"s":"green","x":11,"c":82.1},{"s":"green","x":12,"c":83.8},{"s":"green","x":13,"c":85.5},{"s":"green","x":14,"c":82.6},{"s":"green","x":16,"c":71.1},{"s":"green","x":18,"c":63},{"s":"green","x":20,"c":59.5},{"s":"green","x":23,"c":49.1},{"s":"green","x":26,"c":42.1},{"s":"green","x":30,"c":35.2},{"s":"green","x":35,"c":28.2},{"s":"green","x":40,"c":23.6},{"s":"green","x":50,"c":14.4},{"s":"green","x":60,"c":10.9},{"s":"green","x":70,"c":10.3},{"s":"green","x":80,"c":9.7},{"s":"green","x":100,"c":9.1},{"s":"green","x":120,"c":10.9},{"s":"green","x":150,"c":9.7},{"s":"green","x":200,"c":6.8},{"s":"green","x":250,"c":5.7},{"s":"green","x":300,"c":4.5},{"s":"green","x":400,"c":3.4},{"s":"green","x":500,"c":2.8},{"s":"green","x":700,"c":2.2},{"s":"green","x":1000,"c":1.9},{"s":"green","x":1500,"c":1},{"s":"green","x":2000,"c":0.5},{"s":"green","x":2500,"c":0},
{"s":"red","x":1,"c":60},{"s":"red","x":1.15,"c":3.9},{"s":"red","x":1.3,"c":6.3},{"s":"red","x":1.6,"c":9.1},{"s":"red","x":2,"c":10.9},{"s":"red","x":2.5,"c":13.2},{"s":"red","x":3,"c":15.5},{"s":"red","x":3.5,"c":20.1},{"s":"red","x":4,"c":24.8},{"s":"red","x":4.5,"c":31.7},{"s":"red","x":5,"c":36.3},{"s":"red","x":6,"c":51.4},{"s":"red","x":7,"c":58.3},{"s":"red","x":8,"c":65.3},{"s":"red","x":9,"c":68.8},{"s":"red","x":10,"c":73.4},{"s":"red","x":11,"c":80.3},{"s":"red","x":12,"c":83.8},{"s":"red","x":13,"c":86.1},{"s":"red","x":14,"c":86.1},{"s":"red","x":16,"c":79.2},{"s":"red","x":18,"c":76.3},{"s":"red","x":20,"c":76.9},{"s":"red","x":23,"c":78},{"s":"red","x":24,"c":78.2},{"s":"red","x":26,"c":68.8},{"s":"red","x":30,"c":53.7},{"s":"red","x":35,"c":42.1},{"s":"red","x":40,"c":41},{"s":"red","x":50,"c":34},{"s":"red","x":60,"c":27.1},{"s":"red","x":70,"c":22.5},{"s":"red","x":80,"c":12},{"s":"red","x":100,"c":13.2},{"s":"red","x":120,"c":12},{"s":"red","x":150,"c":10.9},{"s":"red","x":200,"c":9.1},{"s":"red","x":250,"c":7.4},{"s":"red","x":300,"c":5.7},{"s":"red","x":400,"c":3.9},{"s":"red","x":500,"c":3.4},{"s":"red","x":700,"c":2.2},{"s":"red","x":1000,"c":1.6},{"s":"red","x":1500,"c":0.9},{"s":"red","x":2000,"c":0.5},{"s":"red","x":3000,"c":0},
{"s":"orange","x":1,"c":100},{"s":"orange","x":1.15,"c":3.9},{"s":"orange","x":1.3,"c":4.5},{"s":"orange","x":1.6,"c":6.3},{"s":"orange","x":2,"c":9.7},{"s":"orange","x":2.5,"c":14.4},{"s":"orange","x":3,"c":19},{"s":"orange","x":3.5,"c":20.1},{"s":"orange","x":4,"c":22.5},{"s":"orange","x":4.5,"c":24.8},{"s":"orange","x":5,"c":29.4},{"s":"orange","x":6,"c":38.7},{"s":"orange","x":7,"c":44.4},{"s":"orange","x":8,"c":50.2},{"s":"orange","x":9,"c":58.3},{"s":"orange","x":10,"c":60.6},{"s":"orange","x":11,"c":65.3},{"s":"orange","x":12,"c":72.2},{"s":"orange","x":14,"c":73.4},{"s":"orange","x":16,"c":80.3},{"s":"orange","x":18,"c":87.3},{"s":"orange","x":20,"c":91.9},{"s":"orange","x":22,"c":92.5},{"s":"orange","x":23,"c":90.7},{"s":"orange","x":26,"c":74.5},{"s":"orange","x":30,"c":63},{"s":"orange","x":35,"c":54.9},{"s":"orange","x":40,"c":47.9},{"s":"orange","x":50,"c":38.7},{"s":"orange","x":60,"c":31.7},{"s":"orange","x":70,"c":27.1},{"s":"orange","x":80,"c":23.6},{"s":"orange","x":100,"c":19},{"s":"orange","x":120,"c":15.5},{"s":"orange","x":150,"c":12},{"s":"orange","x":200,"c":10.9},{"s":"orange","x":250,"c":9.1},{"s":"orange","x":300,"c":7.4},{"s":"orange","x":400,"c":5.7},{"s":"orange","x":500,"c":5.1},{"s":"orange","x":700,"c":3.9},{"s":"orange","x":1000,"c":3.4},{"s":"orange","x":1500,"c":2.8},{"s":"orange","x":2000,"c":1.9},{"s":"orange","x":3000,"c":1},{"s":"orange","x":4000,"c":0.5},{"s":"orange","x":5000,"c":0},
{"s":"yellow","x":1,"c":100},{"s":"yellow","x":1.15,"c":2.8},{"s":"yellow","x":1.3,"c":3.9},{"s":"yellow","x":1.6,"c":5.1},{"s":"yellow","x":2,"c":7.4},{"s":"yellow","x":2.5,"c":8.6},{"s":"yellow","x":3,"c":10.9},{"s":"yellow","x":3.5,"c":14.4},{"s":"yellow","x":4,"c":17.8},{"s":"yellow","x":4.5,"c":21.3},{"s":"yellow","x":5,"c":23.6},{"s":"yellow","x":6,"c":29.4},{"s":"yellow","x":7,"c":34},{"s":"yellow","x":8,"c":41},{"s":"yellow","x":9,"c":49.1},{"s":"yellow","x":10,"c":58.3},{"s":"yellow","x":11,"c":60.6},{"s":"yellow","x":12,"c":65.3},{"s":"yellow","x":14,"c":72.2},{"s":"yellow","x":16,"c":80.3},{"s":"yellow","x":18,"c":85},{"s":"yellow","x":20,"c":87.3},{"s":"yellow","x":23,"c":86.1},{"s":"yellow","x":26,"c":83.8},{"s":"yellow","x":28,"c":86.1},{"s":"yellow","x":30,"c":82.6},{"s":"yellow","x":35,"c":73.4},{"s":"yellow","x":40,"c":63},{"s":"yellow","x":50,"c":50.2},{"s":"yellow","x":60,"c":38.7},{"s":"yellow","x":70,"c":31.7},{"s":"yellow","x":80,"c":28.2},{"s":"yellow","x":100,"c":23.6},{"s":"yellow","x":120,"c":19},{"s":"yellow","x":150,"c":14.4},{"s":"yellow","x":200,"c":12},{"s":"yellow","x":250,"c":10.9},{"s":"yellow","x":300,"c":9.7},{"s":"yellow","x":400,"c":7.4},{"s":"yellow","x":500,"c":5.7},{"s":"yellow","x":700,"c":5.1},{"s":"yellow","x":1000,"c":4.5},{"s":"yellow","x":1500,"c":3.4},{"s":"yellow","x":2000,"c":2.2},{"s":"yellow","x":3000,"c":1},{"s":"yellow","x":4000,"c":0.5},{"s":"yellow","x":5000,"c":0}
]
},
"columns": 1,
"spacing": 31,
"concat": [
{
 "title": {"text": "A)", "anchor": "start", "fontSize": 32, "offset": -9, "dx": 8},
 "spacing": 30,
 "hconcat": [
  {
   "width": 533, "height": 287,
   "title": {"text": "MCF7σ₁", "fontSize": 30, "frame": "group", "dx": -15, "offset": 63},
   "data": {"name": "aL"},
   "mark": {"type": "line"},
   "encoding": {
    "x": {"field": "x", "type": "quantitative", "scale": {"type": "log", "domain": [1, 100000], "nice": false},
     "axis": {"title": "Green-B Fluo", "titleFontSize": 30, "titleAnchor": "start", "titleAlign": "left", "titleX": 6, "titlePadding": 6,
      "values": [1,2,3,4,5,6,7,8,9,10,20,30,40,50,60,70,80,90,100,200,300,400,500,600,700,800,900,1000,2000,3000,4000,5000,6000,7000,8000,9000,10000,20000,30000,40000,50000,60000,70000,80000,90000,100000],
      "labelExpr": "datum.value == 1 ? '10⁰' : datum.value == 10 ? '10¹' : datum.value == 100 ? '10²' : datum.value == 1000 ? '10³' : datum.value == 10000 ? '10⁴' : datum.value == 100000 ? '10⁵' : ''",
      "labelFontSize": 29, "labelFlush": false, "labelOverlap": false, "labelPadding": 4, "domainWidth": 4.5,
      "tickSize": {"condition": {"test": "indexof([1,10,100,1000,10000,100000], datum.value) >= 0", "value": 12}, "value": 7}}},
    "y": {"field": "c", "type": "quantitative", "scale": {"domain": [0, 2000], "nice": false},
     "axis": {"title": "Count", "titleFontSize": 28, "titlePadding": 32, "format": "d",
      "values": [0,100,200,300,400,500,600,700,800,900,1000,1100,1200,1300,1400,1500,1600,1700,1800,1900,2000],
      "labelExpr": "indexof([0,400,1000,1600], datum.value) >= 0 ? datum.label : ''",
      "labelAngle": -90, "labelFontSize": 22, "labelPadding": 4, "labelOverlap": false, "tickSize": 7, "domainWidth": 5}},
    "color": {"field": "s", "type": "nominal", "legend": null,
     "scale": {"domain": ["purple","violet","black","blue","dgreen","green","red","orange","yellow"], "range": ["#8a1c88","#9430ee","#111111","#3a22ff","#1f5c12","#3c9c1e","#d62020","#e38e18","#f0ec00"]}}
   }
  },
  {
   "width": 547, "height": 287,
   "title": {"text": "MCF7wt", "fontSize": 30, "frame": "group", "dx": -36, "offset": 43},
   "data": {"name": "aR"},
   "mark": {"type": "line"},
   "encoding": {
    "x": {"field": "x", "type": "quantitative", "scale": {"type": "log", "domain": [1, 100000], "nice": false},
     "axis": {"title": "Green-B Fluo", "titleFontSize": 30, "titleAnchor": "start", "titleAlign": "left", "titleX": 15, "titlePadding": 6,
      "values": [1,2,3,4,5,6,7,8,9,10,20,30,40,50,60,70,80,90,100,200,300,400,500,600,700,800,900,1000,2000,3000,4000,5000,6000,7000,8000,9000,10000,20000,30000,40000,50000,60000,70000,80000,90000,100000],
      "labelExpr": "datum.value == 1 ? '10⁰' : datum.value == 10 ? '10¹' : datum.value == 100 ? '10²' : datum.value == 1000 ? '10³' : datum.value == 10000 ? '10⁴' : datum.value == 100000 ? '10⁵' : ''",
      "labelFontSize": 29, "labelFlush": false, "labelOverlap": false, "labelPadding": 4, "domainWidth": 4.5,
      "tickSize": {"condition": {"test": "indexof([1,10,100,1000,10000,100000], datum.value) >= 0", "value": 12}, "value": 7}}},
    "y": {"field": "c", "type": "quantitative", "scale": {"domain": [0, 100], "nice": false},
     "axis": {"title": "Count", "titleFontSize": 28, "titlePadding": 16, "format": "d",
      "values": [0,5,10,15,20,25,30,35,40,45,50,55,60,65,70,75,80,85,90,95,100],
      "labelExpr": "datum.value % 20 == 0 ? datum.label : ''",
      "labelAngle": -90, "labelFontSize": 24, "labelPadding": 4, "labelOverlap": false, "tickSize": 7, "domainWidth": 5}},
    "color": {"field": "s", "type": "nominal", "legend": null,
     "scale": {"domain": ["purple","violet","black","blue","dgreen","green","red","orange","yellow"], "range": ["#8a1c88","#9430ee","#111111","#3a22ff","#1f5c12","#3c9c1e","#d62020","#e38e18","#f0ec00"]}}
   }
  }
 ]
},
{
 "title": {"text": "B)", "anchor": "start", "fontSize": 32, "offset": -18, "dx": 10},
 "spacing": 15,
 "hconcat": [
  {
   "width": 558, "height": 290,
   "title": {"text": "MCF7σ₁", "fontSize": 30, "frame": "group", "dx": -13, "offset": 56},
   "data": {"name": "bL"},
   "mark": {"type": "line"},
   "encoding": {
    "x": {"field": "x", "type": "quantitative", "scale": {"type": "log", "domain": [1, 100000], "nice": false},
     "axis": {"title": "Green-B Fluo", "titleFontSize": 30, "titleAnchor": "start", "titleAlign": "left", "titleX": 21, "titlePadding": 6,
      "values": [1,2,3,4,5,6,7,8,9,10,20,30,40,50,60,70,80,90,100,200,300,400,500,600,700,800,900,1000,2000,3000,4000,5000,6000,7000,8000,9000,10000,20000,30000,40000,50000,60000,70000,80000,90000,100000],
      "labelExpr": "datum.value == 1 ? '10⁰' : datum.value == 10 ? '10¹' : datum.value == 100 ? '10²' : datum.value == 1000 ? '10³' : datum.value == 10000 ? '10⁴' : datum.value == 100000 ? '10' : ''",
      "labelFontSize": 29, "labelFlush": false, "labelOverlap": false, "labelPadding": 4, "domainWidth": 4.5,
      "tickSize": {"condition": {"test": "indexof([1,10,100,1000,10000,100000], datum.value) >= 0", "value": 12}, "value": 7}}},
    "y": {"field": "c", "type": "quantitative", "scale": {"domain": [0, 2000], "nice": false},
     "axis": {"title": "Count", "titleFontSize": 28, "titlePadding": 19, "format": "d",
      "values": [0,100,200,300,400,500,600,700,800,900,1000,1100,1200,1300,1400,1500,1600,1700,1800,1900,2000],
      "labelExpr": "indexof([0,400,1000,1600], datum.value) >= 0 ? datum.label : ''",
      "labelAngle": -90, "labelFontSize": 22, "labelPadding": 4, "labelOverlap": false, "tickSize": 7, "domainWidth": 5}},
    "color": {"field": "s", "type": "nominal", "legend": null,
     "scale": {"domain": ["purple","violet","black","blue","dgreen","green","red","orange","yellow"], "range": ["#8a1c88","#9430ee","#111111","#3a22ff","#1f5c12","#3c9c1e","#d62020","#e38e18","#f0ec00"]}}
   }
  },
  {
   "width": 544, "height": 290,
   "title": {"text": "MCF7wt", "fontSize": 30, "frame": "group", "dx": -28, "offset": 31},
   "data": {"name": "bR"},
   "mark": {"type": "line"},
   "encoding": {
    "x": {"field": "x", "type": "quantitative", "scale": {"type": "log", "domain": [1, 100000], "nice": false},
     "axis": {"title": "Green-B Fluo", "titleFontSize": 30, "titleAnchor": "start", "titleAlign": "left", "titleX": 13, "titlePadding": 6,
      "values": [1,2,3,4,5,6,7,8,9,10,20,30,40,50,60,70,80,90,100,200,300,400,500,600,700,800,900,1000,2000,3000,4000,5000,6000,7000,8000,9000,10000,20000,30000,40000,50000,60000,70000,80000,90000,100000],
      "labelExpr": "datum.value == 1 ? '10⁰' : datum.value == 10 ? '10¹' : datum.value == 100 ? '10²' : datum.value == 1000 ? '10³' : datum.value == 10000 ? '10⁴' : datum.value == 100000 ? '10⁵' : ''",
      "labelFontSize": 29, "labelFlush": false, "labelOverlap": false, "labelPadding": 4, "domainWidth": 4.5,
      "tickSize": {"condition": {"test": "indexof([1,10,100,1000,10000,100000], datum.value) >= 0", "value": 12}, "value": 7}}},
    "y": {"field": "c", "type": "quantitative", "scale": {"domain": [0, 100], "nice": false},
     "axis": {"title": "Count", "titleFontSize": 28, "titlePadding": 16, "format": "d",
      "values": [0,5,10,15,20,25,30,35,40,45,50,55,60,65,70,75,80,85,90,95,100],
      "labelExpr": "datum.value % 20 == 0 ? datum.label : ''",
      "labelAngle": -90, "labelFontSize": 24, "labelPadding": 4, "labelOverlap": false, "tickSize": 7, "domainWidth": 5}},
    "color": {"field": "s", "type": "nominal", "legend": null,
     "scale": {"domain": ["purple","violet","black","blue","dgreen","green","red","orange","yellow"], "range": ["#8a1c88","#9430ee","#111111","#3a22ff","#1f5c12","#3c9c1e","#d62020","#e38e18","#f0ec00"]}}
   }
  }
 ]
}
]
}
